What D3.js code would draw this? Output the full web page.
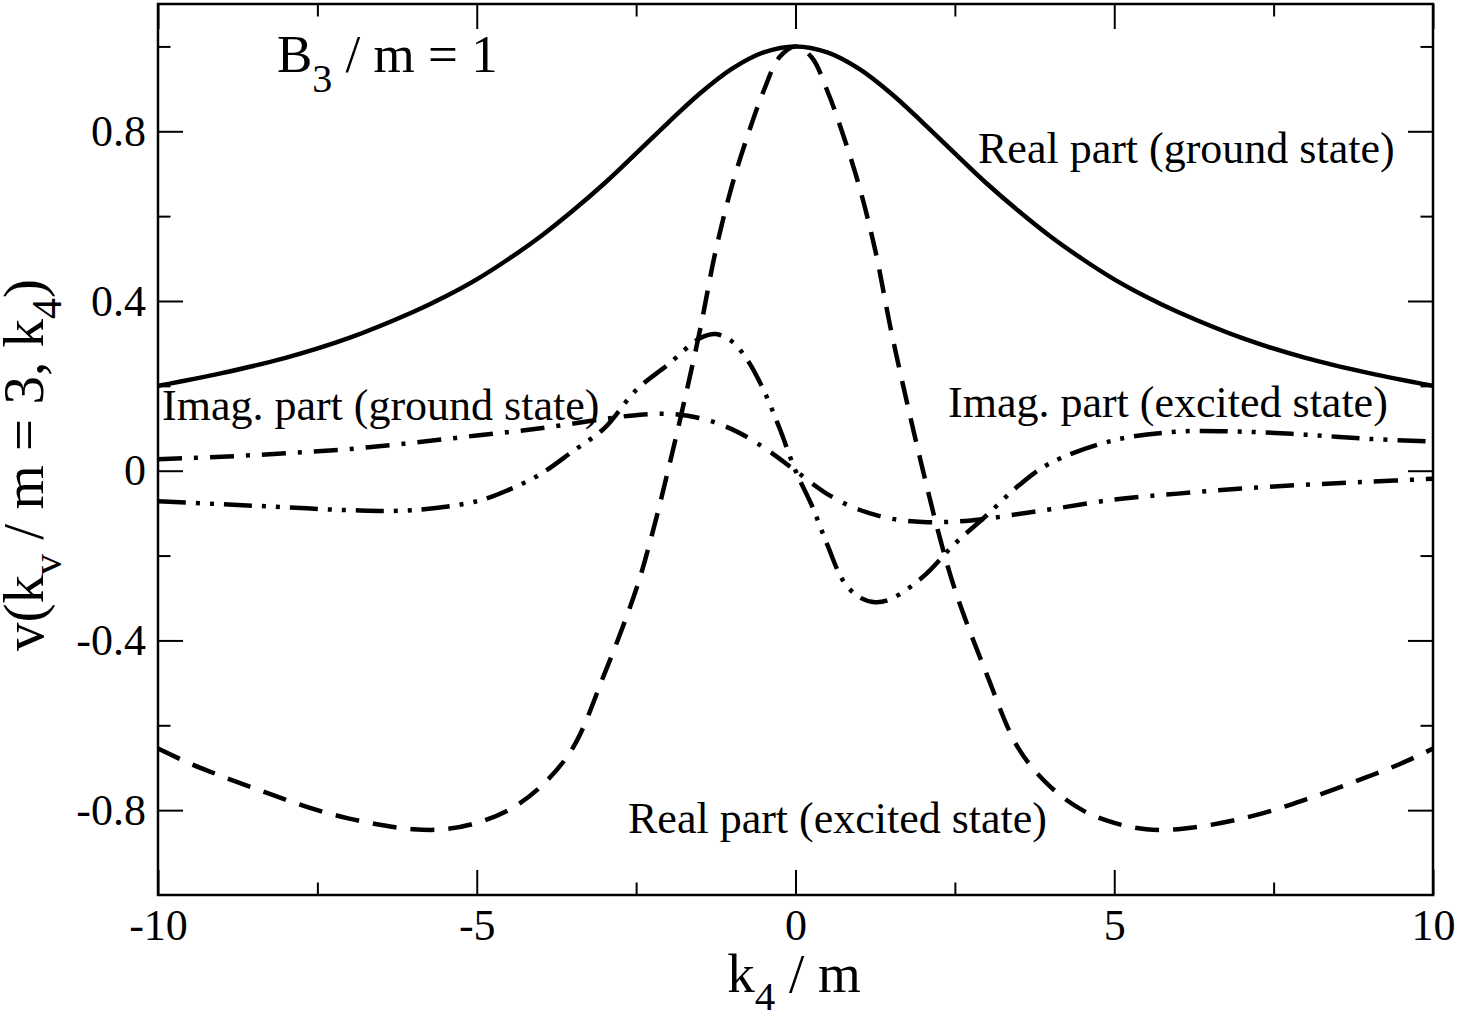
<!DOCTYPE html>
<html lang="en">
<head>
<meta charset="utf-8">
<title>v(k4) plot</title>
<script src="https://d3js.org/d3.v7.min.js"></script>
<style>
body { margin:0; background:#fff; }
text { font-family:"Liberation Serif","Times New Roman",serif; fill:#000; white-space:pre; }
</style>
<script type="text/javascript">
// values
var realGroundK = [-10,-9,-8,-7,-6,-5.5,-5,-4.5,-4,-3.5,-3,-2.5,-2,-1.5,-1,-0.5,0,0.5,1,1.5,2,2.5,3,3.5,4,4.5,5,5.5,6,7,8,9,10];
var realGroundV = [0.2,0.23,0.266,0.313,0.374,0.41,0.451,0.499,0.552,0.612,0.677,0.748,0.82,0.889,0.947,0.986,1.0,0.986,0.947,0.889,0.82,0.748,0.677,0.612,0.552,0.499,0.451,0.41,0.374,0.313,0.266,0.23,0.2];

var realExcK = [-10,-9.5,-9,-8.5,-8,-7.5,-7,-6.5,-6,-5.5,-5,-4.5,-4,-3.5,-3,-2.5,-2.25,-2,-1.75,-1.5,-1.25,-1,-0.75,-0.5,-0.25,0,0.25,0.5,0.75,1,1.25,1.5,1.75,2,2.25,2.5,3,3.5,4,4.5,5,5.5,6,6.5,7,7.5,8,8.5,9,9.5,10];
var realExcV = [-0.655,-0.69,-0.72,-0.748,-0.775,-0.8,-0.82,-0.835,-0.845,-0.845,-0.83,-0.8,-0.745,-0.655,-0.48,-0.28,-0.15,0.0,0.16,0.33,0.52,0.67,0.79,0.895,0.975,1.0,0.975,0.895,0.79,0.67,0.52,0.33,0.16,0.0,-0.15,-0.28,-0.48,-0.655,-0.745,-0.8,-0.83,-0.845,-0.845,-0.835,-0.82,-0.8,-0.775,-0.748,-0.72,-0.69,-0.655];

var imagGroundK = [-10,-9,-8,-7,-6,-5,-4,-3,-2.5,-2,-1.5,-1,-0.5,0,0.5,1,1.5,2,2.5,3,3.5,4,5,6,7,8,9,10];
var imagGroundV = [0.027,0.033,0.041,0.051,0.066,0.083,0.1,0.122,0.131,0.134,0.124,0.098,0.055,0.0,-0.055,-0.092,-0.113,-0.121,-0.12,-0.113,-0.102,-0.091,-0.068,-0.054,-0.042,-0.033,-0.026,-0.019];

var imagExcK = [-10,-9,-8,-7,-6,-5,-4.5,-4,-3.5,-3,-2.5,-2,-1.5,-1.25,-1,-0.75,-0.5,-0.25,0,0.25,0.5,0.75,1,1.25,1.5,2,2.5,3,3.5,4,5,6,7,8,9,10];
var imagExcV = [-0.072,-0.079,-0.086,-0.093,-0.093,-0.072,-0.045,-0.008,0.045,0.1,0.19,0.25,0.312,0.322,0.305,0.26,0.19,0.1,0.0,-0.08,-0.175,-0.26,-0.298,-0.31,-0.302,-0.25,-0.172,-0.105,-0.035,0.018,0.072,0.092,0.092,0.085,0.075,0.069];

var xMajor = [-10,-5,0,5,10];
var xMinor = [-7.5,-2.5,2.5,7.5];
var yMajor = [-0.8,-0.4,0,0.4,0.8];
var yMinor = [-0.6,-0.2,0.2,0.6,1.0];

function init()
{
	var W = 1459, H = 1017;
	var m = {left:158, right:26, top:4, bottom:122};
	var pw = W - m.left - m.right, ph = H - m.top - m.bottom;

	var svg = d3.select("#svgLayer").attr("width", W).attr("height", H);
	var g = svg.append("g").attr("transform", "translate(" + m.left + "," + m.top + ")");

	var x = d3.scaleLinear().domain([-10, 10]).range([0, pw]);
	var y = d3.scaleLinear().domain([-1, 1.1]).range([ph, 0]);

	g.append("clipPath").attr("id", "clip").append("rect").attr("width", pw).attr("height", ph);

	// ticks, inward on all four sides
	function fmt(d) { return d === 0 ? "0" : String(d); }
	var axes = [
		[d3.axisBottom(x).tickValues(xMajor).tickSizeInner(-25).tickPadding(14).tickFormat(fmt), "translate(0," + ph + ")"],
		[d3.axisBottom(x).tickValues(xMinor).tickSizeInner(-12.5).tickFormat(""), "translate(0," + ph + ")"],
		[d3.axisTop(x).tickValues(xMajor).tickSizeInner(-25).tickFormat(""), "translate(0,0)"],
		[d3.axisTop(x).tickValues(xMinor).tickSizeInner(-12.5).tickFormat(""), "translate(0,0)"],
		[d3.axisLeft(y).tickValues(yMajor).tickSizeInner(-25).tickPadding(12).tickFormat(fmt), "translate(0,0)"],
		[d3.axisLeft(y).tickValues(yMinor).tickSizeInner(-12.5).tickFormat(""), "translate(0,0)"],
		[d3.axisRight(y).tickValues(yMajor).tickSizeInner(-25).tickFormat(""), "translate(" + pw + ",0)"],
		[d3.axisRight(y).tickValues(yMinor).tickSizeInner(-12.5).tickFormat(""), "translate(" + pw + ",0)"]
	];
	axes.forEach(function(a) {
		var ax = g.append("g").attr("transform", a[1]).call(a[0].tickSizeOuter(0));
		ax.select(".domain").remove();
		ax.selectAll("line").attr("stroke", "#000").attr("stroke-width", 2);
		ax.selectAll("text").attr("font-size", 44).attr("fill", "#000");
	});

	g.append("rect").attr("width", pw).attr("height", ph)
		.attr("fill", "none").attr("stroke", "#000").attr("stroke-width", 2.5);

	var series = [
		{k:realGroundK, v:realGroundV, dash:null},
		{k:realExcK, v:realExcV, dash:"24,14"},
		{k:imagGroundK, v:imagGroundV, dash:"24,12,4,12"},
		{k:imagExcK, v:imagExcV, dash:"28,10,4,10,4,10"}
	];
	var line = d3.line().x(function(d) { return x(d[0]); }).y(function(d) { return y(d[1]); })
		.curve(d3.curveCatmullRom.alpha(0.5));
	series.forEach(function(s) {
		var pts = d3.zip(s.k, s.v);
		g.append("path").datum(pts).attr("d", line)
			.attr("clip-path", "url(#clip)")
			.attr("fill", "none").attr("stroke", "#000").attr("stroke-width", 4.5)
			.attr("stroke-dasharray", s.dash);
	});

	// curve labels
	var labels = [
		["Real part (ground state)", 978, 163],
		["Imag. part (ground state)", 162, 420],
		["Imag. part (excited state)", 948, 417],
		["Real part (excited state)", 628, 833]
	];
	labels.forEach(function(l) {
		svg.append("text").attr("x", l[1]).attr("y", l[2]).attr("font-size", 44).text(l[0]);
	});

	var t = svg.append("text").attr("x", 277).attr("y", 72).attr("font-size", 53);
	t.append("tspan").text("B");
	t.append("tspan").attr("dy", 20).attr("font-size", 40).text("3");
	t.append("tspan").attr("dy", -20).text(" / m = 1");

	// axis titles
	var xt = svg.append("text").attr("x", 794).attr("y", 992).attr("text-anchor", "middle").attr("font-size", 55);
	xt.append("tspan").text("k");
	xt.append("tspan").attr("dy", 18).attr("font-size", 41).text("4");
	xt.append("tspan").attr("dy", -18).text(" / m");

	var yt = svg.append("text").attr("transform", "translate(43,465) rotate(-90)").attr("text-anchor", "middle").attr("font-size", 57);
	yt.append("tspan").text("v(k");
	yt.append("tspan").attr("dy", 18).attr("font-size", 42).text("v");
	yt.append("tspan").attr("dy", -18).text(" / m = 3, k");
	yt.append("tspan").attr("dy", 18).attr("font-size", 42).text("4");
	yt.append("tspan").attr("dy", -18).text(")");
}
</script>
</head>
<body onload="init();">
<svg id="svgLayer" xmlns="http://www.w3.org/2000/svg"></svg>
</body>
</html>
